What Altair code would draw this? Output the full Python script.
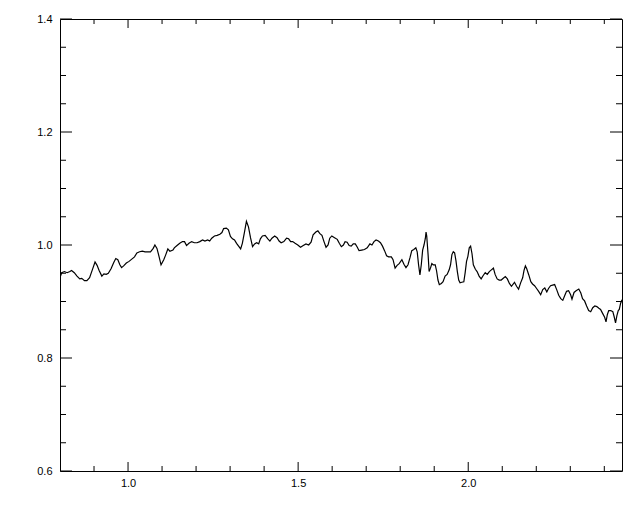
import altair as alt
import pandas as pd

wavelength = [
    0.801, 0.805, 0.813, 0.821, 0.829, 0.834, 0.842, 0.850, 0.858, 0.864, 0.872, 0.879, 0.887, 0.895,
    0.903, 0.909, 0.915, 0.923, 0.929, 0.936, 0.942, 0.950, 0.958, 0.964, 0.970, 0.976, 0.981, 0.987,
    0.995, 1.003, 1.011, 1.019, 1.026, 1.034, 1.042, 1.050, 1.058, 1.066, 1.074, 1.079, 1.085, 1.091,
    1.097, 1.105, 1.111, 1.117, 1.123, 1.132, 1.136, 1.144, 1.152, 1.160, 1.166, 1.172, 1.179, 1.187,
    1.195, 1.203, 1.211, 1.219, 1.226, 1.234, 1.240, 1.246, 1.254, 1.262, 1.270, 1.276, 1.281, 1.289,
    1.295, 1.301, 1.307, 1.313, 1.319, 1.325, 1.331, 1.336, 1.342, 1.348, 1.354, 1.360, 1.366, 1.372,
    1.378, 1.384, 1.389, 1.395, 1.403, 1.411, 1.417, 1.423, 1.431, 1.438, 1.444, 1.450, 1.458, 1.466,
    1.472, 1.478, 1.484, 1.491, 1.499, 1.507, 1.515, 1.523, 1.531, 1.538, 1.544, 1.552, 1.558, 1.564,
    1.570, 1.576, 1.582, 1.588, 1.593, 1.599, 1.607, 1.615, 1.621, 1.627, 1.633, 1.638, 1.644, 1.650,
    1.656, 1.662, 1.668, 1.674, 1.679, 1.687, 1.695, 1.703, 1.711, 1.717, 1.723, 1.729, 1.736, 1.742,
    1.748, 1.754, 1.760, 1.766, 1.774, 1.779, 1.785, 1.791, 1.797, 1.805, 1.811, 1.817, 1.823, 1.829,
    1.834, 1.840, 1.846, 1.850, 1.854, 1.858, 1.862, 1.866, 1.870, 1.874, 1.876, 1.878, 1.882, 1.885,
    1.889, 1.893, 1.897, 1.903, 1.907, 1.911, 1.915, 1.921, 1.926, 1.932, 1.938, 1.944, 1.948, 1.952,
    1.956, 1.960, 1.964, 1.968, 1.972, 1.976, 1.981, 1.987, 1.991, 1.995, 1.999, 2.003, 2.007, 2.011,
    2.015, 2.021, 2.026, 2.032, 2.038, 2.044, 2.050, 2.056, 2.062, 2.068, 2.074, 2.079, 2.085, 2.091,
    2.097, 2.103, 2.109, 2.115, 2.121, 2.127, 2.136, 2.142, 2.148, 2.154, 2.160, 2.164, 2.168, 2.172,
    2.178, 2.184, 2.189, 2.195, 2.201, 2.207, 2.213, 2.219, 2.225, 2.231, 2.236, 2.242, 2.248, 2.254,
    2.260, 2.266, 2.272, 2.278, 2.284, 2.289, 2.295, 2.301, 2.305, 2.311, 2.317, 2.325, 2.331, 2.336,
    2.342, 2.348, 2.354, 2.360, 2.366, 2.372, 2.378, 2.384, 2.389, 2.395, 2.401, 2.405, 2.409, 2.413,
    2.419, 2.425, 2.429, 2.433, 2.437, 2.441, 2.444, 2.448, 2.452,
]

flux = [
    0.944, 0.951, 0.953, 0.951, 0.953, 0.955, 0.951, 0.945, 0.940, 0.941, 0.937, 0.937, 0.942, 0.956,
    0.970, 0.964, 0.955, 0.945, 0.949, 0.948, 0.950, 0.958, 0.969, 0.976, 0.974, 0.965, 0.960, 0.963,
    0.968, 0.971, 0.975, 0.979, 0.986, 0.988, 0.989, 0.988, 0.988, 0.988, 0.994, 1.000, 0.994, 0.980,
    0.965, 0.974, 0.983, 0.993, 0.989, 0.991, 0.995, 0.999, 1.003, 1.006, 1.006, 0.999, 1.003, 1.006,
    1.004, 1.004, 1.006, 1.009, 1.007, 1.009, 1.007, 1.012, 1.016, 1.017, 1.019, 1.022, 1.029, 1.030,
    1.027, 1.015, 1.011, 1.009, 1.003, 0.998, 0.993, 1.003, 1.022, 1.042, 1.032, 1.013, 0.997, 1.002,
    1.004, 1.002, 1.011, 1.016, 1.017, 1.011, 1.007, 1.012, 1.016, 1.013, 1.007, 1.004, 1.006, 1.012,
    1.011, 1.006, 1.006, 1.003, 1.000, 0.996, 0.999, 1.002, 1.000, 1.005, 1.018, 1.023, 1.025, 1.020,
    1.017, 1.006, 0.996, 1.000, 1.012, 1.016, 1.013, 1.010, 1.003, 0.997, 1.000, 1.006, 1.005, 0.999,
    0.998, 1.002, 1.002, 0.996, 0.990, 0.991, 0.992, 0.995, 1.002, 1.000, 1.006, 1.009, 1.007, 1.004,
    0.998, 0.990, 0.981, 0.979, 0.979, 0.974, 0.959, 0.964, 0.967, 0.974, 0.966, 0.960, 0.965, 0.978,
    0.990, 0.992, 0.995, 0.988, 0.965, 0.947, 0.965, 0.991, 1.000, 1.012, 1.023, 1.016, 0.983, 0.953,
    0.959, 0.967, 0.965, 0.965, 0.954, 0.938, 0.930, 0.932, 0.935, 0.945, 0.948, 0.956, 0.965, 0.983,
    0.988, 0.986, 0.972, 0.953, 0.938, 0.933, 0.934, 0.935, 0.951, 0.971, 0.980, 0.995, 0.998, 0.985,
    0.965, 0.957, 0.953, 0.945, 0.940, 0.946, 0.951, 0.948, 0.953, 0.956, 0.959, 0.948, 0.940, 0.938,
    0.938, 0.941, 0.944, 0.940, 0.932, 0.927, 0.934, 0.927, 0.922, 0.933, 0.942, 0.955, 0.963, 0.958,
    0.947, 0.935, 0.931, 0.928, 0.923, 0.918, 0.912, 0.921, 0.924, 0.917, 0.923, 0.928, 0.929, 0.930,
    0.921, 0.911, 0.905, 0.902, 0.911, 0.918, 0.919, 0.912, 0.904, 0.916, 0.919, 0.922, 0.915, 0.905,
    0.901, 0.892, 0.884, 0.882, 0.889, 0.892, 0.891, 0.888, 0.886, 0.879, 0.872, 0.864, 0.877, 0.884,
    0.884, 0.882, 0.873, 0.862, 0.875, 0.884, 0.886, 0.897, 0.903,
]

x_labels = [1.0, 1.5, 2.0]
x_minor = [0.9, 1.1, 1.2, 1.3, 1.4, 1.6, 1.7, 1.8, 1.9, 2.1, 2.2, 2.3, 2.4]
y_labels = [0.6, 0.8, 1.0, 1.2, 1.4]
y_minor = [0.65, 0.7, 0.75, 0.85, 0.9, 0.95, 1.05, 1.1, 1.15, 1.25, 1.3, 1.35]

W, H = 562, 452
FONT = "Liberation Sans"

xs = alt.Scale(domain=[0.8, 2.452], nice=False, zero=False)
ys = alt.Scale(domain=[0.6, 1.4], nice=False, zero=False)

x_axis = alt.Axis(values=x_labels, format=".1f", title=None, ticks=False, domain=False, grid=False,
                  labelPadding=6, labelFontSize=11, labelColor="black", labelFont=FONT)
y_axis = alt.Axis(values=y_labels, format=".1f", title=None, ticks=False, domain=False, grid=False,
                  labelPadding=8, labelFontSize=11, labelColor="black", labelFont=FONT)

line_df = pd.DataFrame({"x": wavelength, "y": flux})

line = alt.Chart(line_df).mark_line(color="black", strokeWidth=1.2, clip=True).encode(
    x=alt.X("x:Q", scale=xs, axis=x_axis, title=None),
    y=alt.Y("y:Q", scale=ys, axis=y_axis, title=None),
)


def xticks(vals, length):
    df = pd.DataFrame({"v": vals})
    base = alt.Chart(df).mark_rule(color="black", strokeWidth=1)
    bottom = base.encode(x=alt.X("v:Q", scale=xs, axis=x_axis, title=None),
                         y=alt.value(H), y2=alt.value(H - length))
    top = base.encode(x=alt.X("v:Q", scale=xs, axis=x_axis, title=None),
                      y=alt.value(0), y2=alt.value(length))
    return [bottom, top]


def yticks(vals, length):
    df = pd.DataFrame({"v": vals})
    base = alt.Chart(df).mark_rule(color="black", strokeWidth=1)
    left = base.encode(y=alt.Y("v:Q", scale=ys, axis=y_axis, title=None),
                       x=alt.value(0), x2=alt.value(length))
    right = base.encode(y=alt.Y("v:Q", scale=ys, axis=y_axis, title=None),
                        x=alt.value(W), x2=alt.value(W - length))
    return [left, right]


layers = [line] + xticks(x_labels, 9) + xticks(x_minor, 5) + yticks(y_labels, 12) + yticks(y_minor, 6)

chart = alt.layer(*layers).properties(
    width=W, height=H,
    autosize=alt.AutoSizeParams(type="none"),
    padding={"left": 52, "top": 11, "right": 10, "bottom": 30},
    background="white",
).configure_view(stroke="black", strokeWidth=1)

chart.save("out.html", embed_options={"renderer": "svg", "actions": False})
